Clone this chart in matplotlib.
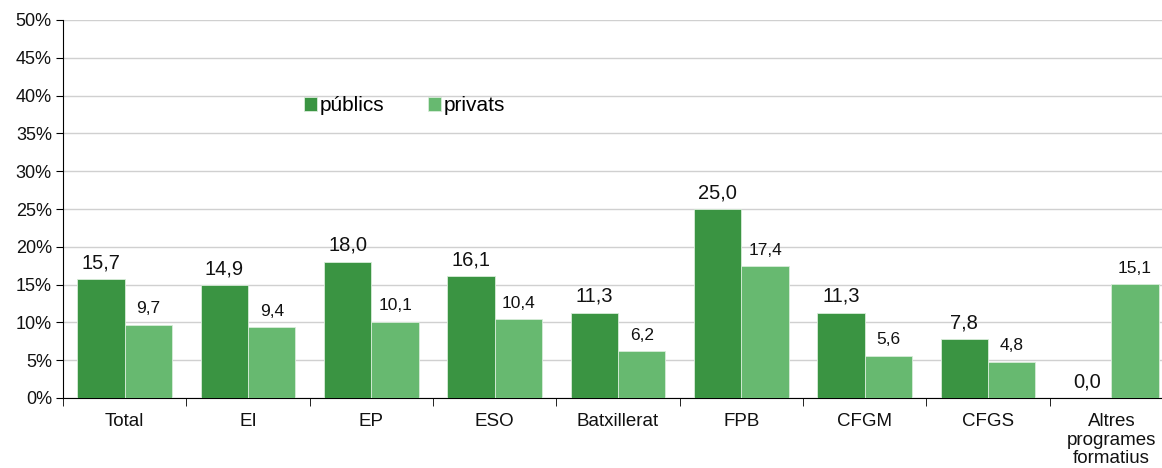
import matplotlib.pyplot as plt
import numpy as np

plt.rcParams['font.family'] = ['Liberation Sans', 'DejaVu Sans']

categories = ["Total", "EI", "EP", "ESO", "Batxillerat", "FPB", "CFGM", "CFGS",
              "Altres\nprogrames\nformatius"]
publics = [15.7, 14.9, 18.0, 16.1, 11.3, 25.0, 11.3, 7.8, 0.0]
privats = [9.7, 9.4, 10.1, 10.4, 6.2, 17.4, 5.6, 4.8, 15.1]

c_pub = "#3a9442"
c_priv = "#67b970"

fig = plt.figure(figsize=(11.62, 4.68), dpi=100)
ax = fig.add_axes([63 / 1162, 70 / 468, 1110 / 1162, 378 / 468])

x = np.arange(len(categories))
w = 0.385
ax.bar(x - w / 2, publics, w, color=c_pub, edgecolor="#d8ecd9", linewidth=0.6,
       label="públics", zorder=3)
ax.bar(x + w / 2, privats, w, color=c_priv, edgecolor="#d8ecd9", linewidth=0.6,
       label="privats", zorder=3)

def fmt(v):
    return f"{v:.1f}".replace(".", ",")

for xi, v in zip(x, publics):
    ax.annotate(fmt(v), (xi - w / 2, v), xytext=(0, 5), textcoords="offset points",
                ha="center", va="bottom", fontsize=14.5, color="#111111")
for xi, v in zip(x, privats):
    ax.annotate(fmt(v), (xi + w / 2, v), xytext=(0, 6), textcoords="offset points",
                ha="center", va="bottom", fontsize=12.5, color="#111111")

ax.set_xlim(-0.5, len(categories) - 0.5)
ax.set_ylim(0, 50)
ax.set_yticks(np.arange(0, 51, 5))
ax.set_yticklabels([f"{t}%" for t in range(0, 51, 5)], fontsize=13, color="#111111")
ax.yaxis.grid(True, color="#d0d0d0", linewidth=1, zorder=0)
ax.set_axisbelow(True)

ax.set_xticks(x)
ax.set_xticklabels(categories, fontsize=13.5, color="#111111", va="top", linespacing=1.12)
ax.tick_params(axis="x", length=0, pad=11)
ax.set_xticks(np.arange(-0.5, len(categories), 1), minor=True)
ax.tick_params(axis="x", which="minor", length=6, direction="out", color="black")
ax.tick_params(axis="y", length=5, direction="out", color="black", pad=3)

for s in ["top", "right"]:
    ax.spines[s].set_visible(False)
ax.spines["left"].set_color("black")
ax.spines["bottom"].set_color("black")

ax.legend(loc="upper left", bbox_to_anchor=(0.21, 0.82), ncol=2, frameon=False,
          fontsize=15, handlelength=0.6, handleheight=0.6, handletextpad=0.15,
          columnspacing=2.1, borderaxespad=0)

fig.savefig("out.png", dpi=100)
